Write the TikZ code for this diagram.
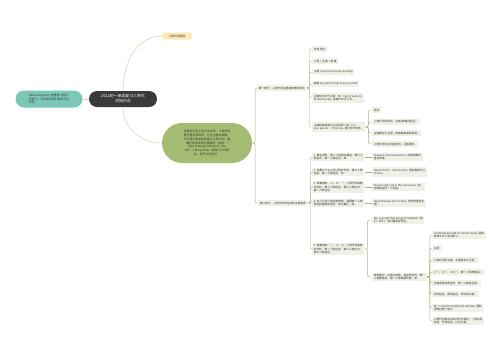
\documentclass[tikz,border=0pt]{standalone}
\usepackage{fontspec}
\setmainfont{Noto Sans CJK SC}
\usetikzlibrary{positioning}
\definecolor{mapdark}{HTML}{3A3A3A}
\definecolor{mapteal}{HTML}{7CC7B6}
\definecolor{mapgreen}{HTML}{A4BC72}
\definecolor{mapyellow}{HTML}{FCE8B4}
\definecolor{mapleaf}{HTML}{EEF1E6}
\definecolor{mapline}{HTML}{A8B47E}
\definecolor{mapcurve}{HTML}{E3D7B0}
\definecolor{maptext}{HTML}{333333}
\tikzset{
  leafbox/.style={
    fill=mapleaf,
    text=maptext,
    anchor=west,
    align=left,
    inner xsep=1.6pt,
    inner ysep=1.3pt,
    font=\fontsize{2.7}{3.6}\selectfont
  },
  branchline/.style={draw=mapline, line width=0.45pt, rounded corners=2pt},
  curveline/.style={draw=mapcurve, line width=0.6pt}
}

\begin{document}
\begin{tikzpicture}[
  x=1pt, y=-1pt,
  titlebox/.style={
    fill=mapdark,
    text=white,
    rounded corners=8pt,
    align=center,
    minimum width=68pt,
    minimum height=16pt,
    inner sep=1pt,
    font=\fontsize{3.9}{5}\selectfont
  },
  introbox/.style={
    fill=mapteal,
    text=maptext,
    rounded corners=8.5pt,
    align=left,
    minimum width=67pt,
    minimum height=17pt,
    inner sep=1pt,
    font=\fontsize{2.9}{3.7}\selectfont
  },
  corebox/.style={
    fill=mapgreen,
    text=maptext,
    rounded corners=20pt,
    align=center,
    minimum width=90pt,
    minimum height=40pt,
    inner sep=1pt,
    font=\fontsize{2.9}{3.8}\selectfont
  },
  tagbox/.style={
    fill=mapyellow,
    text=maptext,
    rounded corners=3pt,
    minimum width=30pt,
    minimum height=7pt,
    inner sep=1pt,
    font=\fontsize{2.8}{3.4}\selectfont
  }
]
  \useasboundingbox[fill=white] (0,0) rectangle (500,360);

  \node[titlebox] (title) at (123,99) {2022初一英语复习人称代\\词知识点};
  \node[tagbox] (tag) at (177,36) {人称代词速背};
  \node[introbox] (intro) at (49,99) {Hello everyone! 这里是人称代\\词复习，今天就让我们来学习它\\们吧。};
  \node[corebox] (core) at (207,143) {这是我们在小学已学过的，人称代词\\是代替名词的词，它分主格和宾格。\\今天我们来系统地复习人称代词，看\\看它的用法和注意事项。例如：I\\have three good friends. You\\don't know them. 我有三个好朋\\友，你不认识他们。};

  \node[leafbox] (partA) at (257,88) {第一部分：人称代词主格和宾格的用法};
  \node[leafbox] (a1) at (312,49) {分类 用法};
  \node[leafbox] (a2) at (312,61) {人称 = 主 格 + 宾 格};
  \node[leafbox] (a3) at (312,72) {主格 I you he she it we you they};
  \node[leafbox] (a4) at (312,84) {宾格 me you him her it us you them};
  \node[leafbox] (a5) at (312,98) {主格在句中作主语，如：I go to work on\\foot every day. 我每天步行上班。};
  \node[leafbox] (a6) at (312,127) {主格和宾格有什么区别呢？如：It is\\you, we can't find you. 我们找不到你。};
  \node[leafbox] (a61) at (372,110) {用法};
  \node[leafbox] (a62) at (372,122) {人称代词的用法，主格/宾格的区别。};
  \node[leafbox] (a63) at (372,133) {主格做句子主语，宾格做宾语或表语。};
  \node[leafbox] (a64) at (372,144) {人称代词与名词连用时，注意顺序。};

  \node[leafbox] (partB) at (258,203) {第二部分：人称代词的用法和注意事项};
  \node[leafbox] (b1) at (312,157) {1. 做主语时，第二人称放在最前，第三人\\称在中，第一人称在后，如：};
  \node[leafbox] (b2) at (312,172) {2. 如果三个以上的人称并列时，第三人称\\在前，第一人称在后，如：};
  \node[leafbox] (b3) at (312,187) {3. 单数顺序：二、三、一，人称代词单数\\并列时，第二人称在前，第三人称在中，\\第一人称在后};
  \node[leafbox] (b4) at (312,203) {4. 在人们犯了错误的时候，需要第一人称\\放在前面承担责任，表示谦让，如：};
  \node[leafbox] (b5) at (312,249) {5. 复数顺序：一、二、三，人称代词复数\\并列时，第一人称在前，第二人称在中，\\第三人称在后};
  \node[leafbox] (b11) at (372,157) {You and I are not teachers. 你和我都不\\是老师哦。};
  \node[leafbox] (b21) at (372,172) {He and I don't know Tony. 他和我都不认\\识Tony。};
  \node[leafbox] (b31) at (372,187) {You, he and I are in the same class. 你、\\他和我在同一个班级。};
  \node[leafbox] (b41) at (372,203) {He and Susan are in China. 他和苏珊在中\\国。};
  \node[leafbox] (b51) at (372,220) {We, you and they are good students. 我\\们、你们、他们都是好学生。};
  \node[leafbox] (b52) at (372,277) {特殊情况：主格与宾格，承担责任时，第一\\人称要放前，第一人称复数同理，如：};
  \node[leafbox] (c1) at (432,235) {I and Kate are late for school today. 我和\\凯特今天上学迟到了。};
  \node[leafbox] (c2) at (432,248) {注意};
  \node[leafbox] (c3) at (432,260) {人称代词的主格，主要做句子主语。};
  \node[leafbox] (c4) at (432,272) {二一，三一，二三一，第一人称放最后。};
  \node[leafbox] (c5) at (432,283) {犯错误承担责任时，第一人称放在前。};
  \node[leafbox] (c6) at (432,294) {你的在前，我的在后，表示有礼貌。};
  \node[leafbox] (c7) at (432,308) {如：I and Tom broke the window. 我和\\汤姆打破了窗户。};
  \node[leafbox] (c8) at (432,321) {人称代词和名词并列作主语时，一般名词\\在前，代词在后，以示礼貌。};

  \draw[curveline] (title.north) to[out=90,in=180] (tag.west);
  \draw[curveline] (title.south) to[out=-90,in=180] (core.west);
  \draw[curveline] (title.west) -- (intro.east);

  \draw[branchline] (core.east) -- ++(3,0) |- (partA.west);
  \draw[branchline] (core.east) -- ++(3,0) |- (partB.west);
  \foreach \leaf in {a1,a2,a3,a4,a5,a6}
    \draw[branchline] (partA.east) -- ++(3,0) |- (\leaf.west);
  \foreach \leaf in {a61,a62,a63,a64}
    \draw[branchline] (a6.east) -- ++(3,0) |- (\leaf.west);
  \foreach \leaf in {b1,b2,b3,b4,b5}
    \draw[branchline] (partB.east) -- ++(3,0) |- (\leaf.west);
  \draw[branchline] (b1) -- (b11);
  \draw[branchline] (b2) -- (b21);
  \draw[branchline] (b3) -- (b31);
  \draw[branchline] (b4) -- (b41);
  \foreach \leaf in {b51,b52}
    \draw[branchline] (b5.east) -- ++(3,0) |- (\leaf.west);
  \foreach \leaf in {c1,c2,c3,c4,c5,c6,c7,c8}
    \draw[branchline] (b52.east) -- ++(3,0) |- (\leaf.west);
\end{tikzpicture}
\end{document}
